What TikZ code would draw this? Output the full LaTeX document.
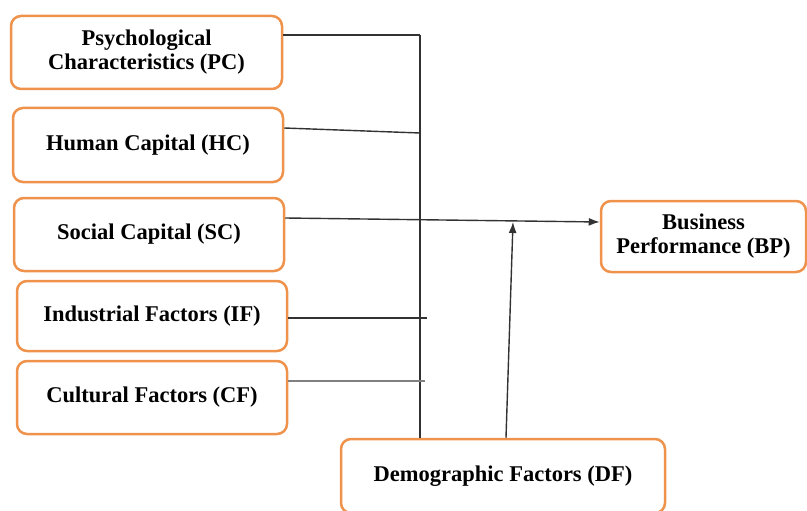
\documentclass[tikz,border=0pt]{standalone}
\usepackage{fontspec}
\setmainfont{Liberation Serif}
\usetikzlibrary{arrows.meta}
\definecolor{boxorange}{RGB}{238,146,76}
\definecolor{linegray}{RGB}{50,50,50}

\def\PC{PC}
\def\HC{HC}
\def\SC{SC}
\def\IF{IF}
\def\CF{CF}
\def\BP{BP}
\def\DF{DF}

\begin{document}
\begin{tikzpicture}[x=1pt,y=-1pt,
  every node/.style={font=\fontsize{22.5}{24}\selectfont\bfseries},
  factor/.style={draw=boxorange,line width=2.5pt,rounded corners=10pt,
    fill=white,align=center,inner sep=0pt,minimum width=270pt},
  link/.style={draw=linegray,line width=1.4pt},]

\useasboundingbox (0,0) rectangle (807,511);

% Factor boxes
\node[factor,minimum height=73pt,minimum width=271pt] (\PC) at (146.5,52.5)
  {Psychological\\Characteristics (PC)};
\node[factor,minimum height=74pt] (\HC) at (148,145) {Human Capital (HC)};
\node[factor,minimum height=73pt] (\SC) at (149,234.5) {Social Capital (SC)};
\node[factor,minimum height=70pt] (\IF) at (152,316) {Industrial Factors (IF)};
\node[factor,minimum height=73pt] (\CF) at (152,397.5) {Cultural Factors (CF)};

% Outcome and moderator
\node[factor,minimum height=71pt,minimum width=205pt] (\BP) at (703.5,236.5)
  {Business\\Performance (BP)};
\node[factor,minimum height=74pt,minimum width=324pt] (\DF) at (503,476)
  {Demographic Factors (DF)};

% Bus coordinates
\coordinate (bus top) at (420,35);
\coordinate (bus HC) at (420,133);
\coordinate (bus IF) at (427,318);
\coordinate (bus CF) at (425,381);
\coordinate (meet) at (513,222);

% Vertical bus
\draw[link] (bus top) -- (bus top |- \DF.north);

% Horizontal links
\draw[link] (\PC.east |- bus top) -- (bus top);
\draw[link] (\HC.east |- 0,128) -- (bus HC);
\draw[link] (\IF.east |- bus IF) -- (bus IF);
\draw[link,draw=gray,line width=1.8pt] (\CF.east |- bus CF) -- (bus CF);

% Arrows
\draw[link,-{Latex[length=11pt,width=8pt]}] (\SC.east |- 0,218) -- (\BP.west |- 0,222);
\draw[link,-{Latex[length=11pt,width=8pt]}] (\DF.north -| 506,0) -- (meet);

\end{tikzpicture}
\end{document}
